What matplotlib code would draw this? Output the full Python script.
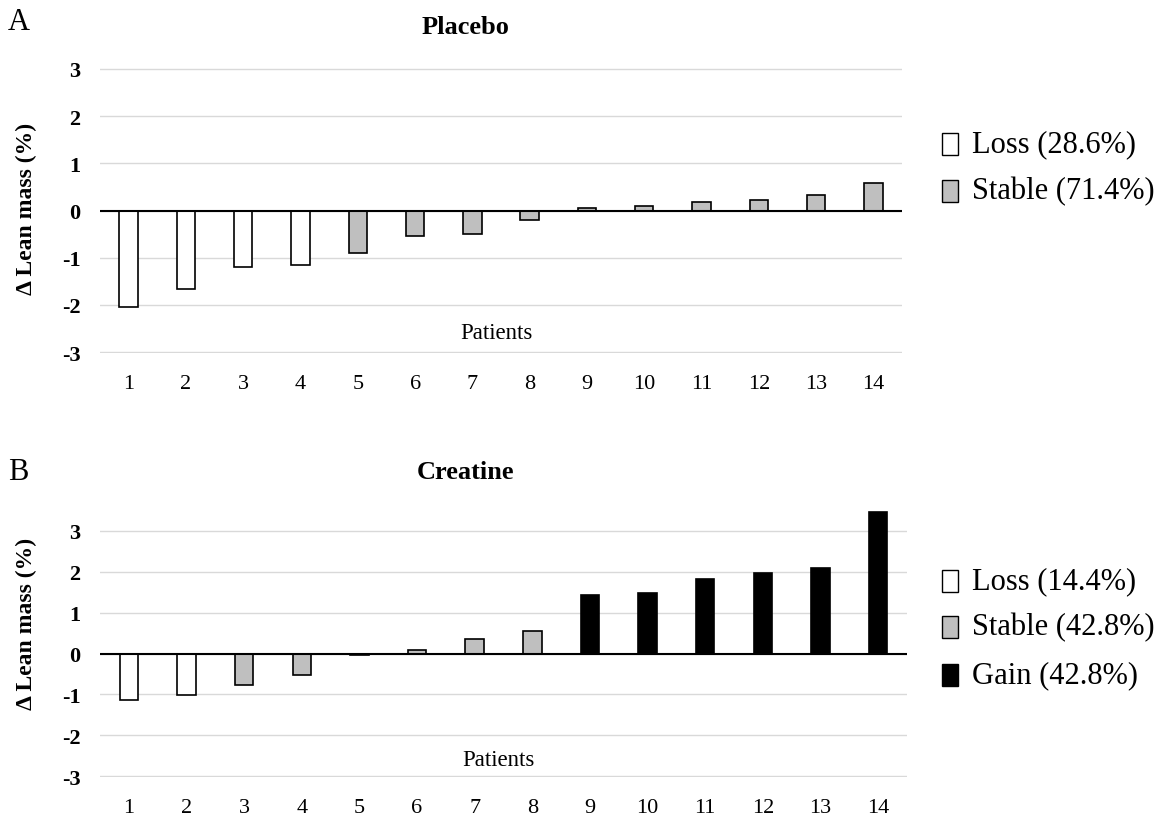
import matplotlib
matplotlib.use("Agg")
import matplotlib.pyplot as plt
from matplotlib.patches import Rectangle

patients = list(range(1, 15))
placebo_values = [-2.05, -1.66, -1.19, -1.15, -0.90, -0.54, -0.49, -0.21, 0.05, 0.09, 0.17, 0.22, 0.32, 0.58]
placebo_groups = ["Loss"] * 4 + ["Stable"] * 10
creatine_values = [-1.13, -1.01, -0.78, -0.53, -0.03, 0.09, 0.36, 0.56, 1.44, 1.49, 1.82, 1.96, 2.09, 3.47]
creatine_groups = ["Loss"] * 2 + ["Stable"] * 6 + ["Gain"] * 6
yticks = [-3, -2, -1, 0, 1, 2, 3]

placebo_legend = ["Loss (28.6%)", "Stable (71.4%)"]
creatine_legend = ["Loss (14.4%)", "Stable (42.8%)", "Gain (42.8%)"]

colors = {"Loss": "white", "Stable": "#bfbfbf", "Gain": "black"}

plt.rcParams['font.family'] = ['Liberation Serif', 'DejaVu Serif']

W, H = 1161, 820
fig = plt.figure(figsize=(W / 100, H / 100), dpi=100)

def fx(px):
    return px / W

def fy(py):
    return 1 - py / H

def panel(rect, values, groups, title, letter, title_y, letter_y, legend_labels, legend_keys,
          legend_ys, ylabel_y, patients_y):
    ax = fig.add_axes(rect)
    bars = ax.bar(patients, values, width=0.32, color=[colors[g] for g in groups],
                  edgecolor="black", linewidth=1.2, zorder=3)
    for b in bars:
        b.set_clip_on(False)
    ax.set_xlim(0.5, 14.5)
    ax.set_ylim(-3.02, 3.02)
    ax.set_yticks(yticks)
    ax.set_yticklabels([str(t) for t in yticks], fontsize=16, fontweight="bold")
    ax.set_xticks(patients)
    ax.set_xticklabels([str(p) for p in patients], fontsize=16)
    ax.tick_params(axis="x", length=0, pad=15)
    ax.tick_params(axis="y", length=0, pad=14)
    for s in ax.spines.values():
        s.set_visible(False)
    ax.grid(axis="y", color="#d9d9d9", linewidth=1, zorder=0)
    ax.axhline(0, color="black", linewidth=1.5, zorder=4)
    ax.text(0.494, patients_y, "Patients", transform=ax.transAxes, ha="center", va="center",
            fontsize=16.5)
    fig.text(fx(466), fy(title_y), title, ha="center", va="center", fontsize=19, fontweight="bold")
    fig.text(fx(8), fy(letter_y), letter, ha="left", va="center", fontsize=22)
    fig.text(fx(26), fy(ylabel_y), "Δ Lean mass (%)", rotation=90, ha="center", va="center",
             fontsize=17, fontweight="bold")
    for lab, key, ly in zip(legend_labels, legend_keys, legend_ys):
        fig.add_artist(Rectangle((fx(942), fy(ly + 11)), fx(16), 22 / H,
                                 facecolor=colors[key], edgecolor="black", linewidth=1.0,
                                 transform=fig.transFigure))
        fig.text(fx(972), fy(ly), lab, ha="left", va="center", fontsize=22)
    return ax

panel([fx(100), fy(354), fx(902) - fx(100), (354 - 69) / H], placebo_values, placebo_groups,
      "Placebo", "A", 28, 23, placebo_legend, ["Loss", "Stable"], [145, 192], 209, 0.073)
panel([fx(100), fy(778), fx(907) - fx(100), (778 - 531) / H], creatine_values, creatine_groups,
      "Creatine", "B", 473, 473, creatine_legend, ["Loss", "Stable", "Gain"], [582, 628, 676], 624, 0.072)

fig.savefig("out.png", dpi=100)
